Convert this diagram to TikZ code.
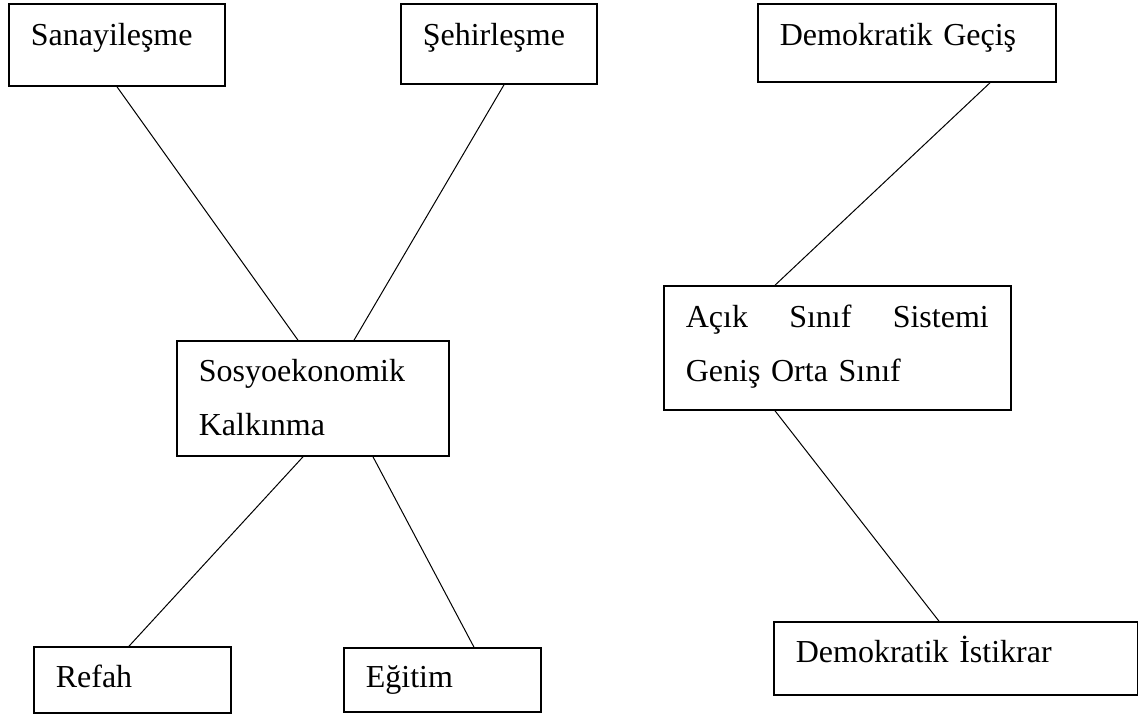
\documentclass[tikz,border=0pt]{standalone}
\usepackage{fontspec}
\setmainfont{Liberation Serif}
\tikzset{box/.style={draw,line width=1.6pt,anchor=base west,inner xsep=22pt,inner ysep=0pt,
  align=left,font=\fontsize{32}{54}\selectfont},
  link/.style={line width=1pt}}
\begin{document}
\begin{tikzpicture}[x=1pt,y=-1pt]
\useasboundingbox (0,0) rectangle (1138,715);

% left group
\node[box,text width=172pt,text height=41pt,text depth=41pt] (sana) at (8,45) {Sanayileşme};
\node[box,text width=152pt,text height=41pt,text depth=39pt] (sehir) at (400,45) {Şehirleşme};
\node[box,text width=228pt,text height=40pt,text depth=75pt] (sosyo) at (176,381) {Sosyoekonomik\\Kalkınma};
\node[box,text width=153pt,text height=40pt,text depth=26pt] (refah) at (33,687) {Refah};
\node[box,text width=153pt,text height=39pt,text depth=25pt] (egitim) at (343,687) {Eğitim};

% right group
\node[box,text width=254pt,text height=41pt,text depth=37pt] (gecis) at (757,45) {Demokratik Geçiş};
\node[box,text width=303pt,text height=41pt,text depth=83pt] (acik) at (663,327) {Açık\hfill Sınıf\hfill Sistemi\\Geniş Orta Sınıf};
\node[box,text width=320pt,text height=40pt,text depth=33pt] (istikrar) at (773,662) {Demokratik İstikrar};

% links
\draw[link] ([xshift=109pt]sana.south west) -- ([xshift=122pt]sosyo.north west)
            ([xshift=104pt]sehir.south west) -- ([xshift=178pt]sosyo.north west)
            ([xshift=127pt]sosyo.south west) -- ([xshift=96pt]refah.north west)
            ([xshift=197pt]sosyo.south west) -- ([xshift=131pt]egitim.north west);
\draw[link] ([xshift=233pt]gecis.south west) -- ([xshift=112pt]acik.north west)
            ([xshift=112pt]acik.south west) -- ([xshift=166pt]istikrar.north west);
\end{tikzpicture}
\end{document}
